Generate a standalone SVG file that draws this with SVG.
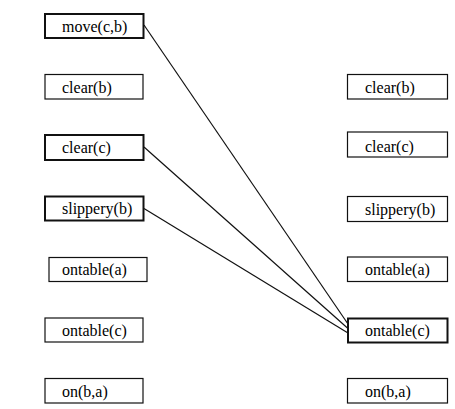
<svg xmlns="http://www.w3.org/2000/svg" width="455" height="409" viewBox="0 0 455 409">
  <style>
    .box { fill: #ffffff; stroke: #111111; stroke-width: 1.2; }
    .bold { stroke-width: 2; }
    .link { stroke: #111111; stroke-width: 1.2; fill: none; }
  </style>
  <rect width="455" height="409" fill="#ffffff"/>

  <!-- connectors -->
  <g id="connectors">
    <line class="link" x1="144" y1="25" x2="348" y2="324"/>
    <line class="link" x1="144" y1="147" x2="348" y2="328.5"/>
    <line class="link" x1="144" y1="208.5" x2="348" y2="333"/>
  </g>

  <!-- left column -->
  <g id="l-move-c-b"><rect class="box bold" x="45" y="14" width="98.5" height="24"/></g>
  <g id="l-clear-b"><rect class="box" x="45" y="74.5" width="98" height="24.5"/></g>
  <g id="l-clear-c"><rect class="box bold" x="45" y="135" width="98.5" height="25"/></g>
  <g id="l-slippery-b"><rect class="box bold" x="45" y="196.5" width="98.5" height="24"/></g>
  <g id="l-ontable-a"><rect class="box" x="49" y="257.5" width="98" height="24"/></g>
  <g id="l-ontable-c"><rect class="box" x="45" y="318" width="98" height="24"/></g>
  <g id="l-on-b-a"><rect class="box" x="45" y="378.5" width="98" height="24.5"/></g>

  <!-- right column -->
  <g id="r-clear-b"><rect class="box" x="347.5" y="74.5" width="100" height="24.5"/></g>
  <g id="r-clear-c"><rect class="box" x="347.5" y="132" width="100" height="25"/></g>
  <g id="r-slippery-b"><rect class="box" x="347.5" y="196.5" width="100" height="25"/></g>
  <g id="r-ontable-a"><rect class="box" x="347.5" y="257" width="100" height="24.5"/></g>
  <g id="r-ontable-c"><rect class="box bold" x="348" y="318.5" width="99.5" height="24"/></g>
  <g id="r-on-b-a"><rect class="box" x="347.5" y="378.5" width="100" height="24.5"/></g>

  <!-- box labels -->
  <text x="62" y="32" font-family="Liberation Serif" font-size="16">move(c,b)</text>
  <text x="62" y="92.5" font-family="Liberation Serif" font-size="16">clear(b)</text>
  <text x="62" y="153" font-family="Liberation Serif" font-size="16">clear(c)</text>
  <text x="62" y="214" font-family="Liberation Serif" font-size="16">slippery(b)</text>
  <text x="62" y="275" font-family="Liberation Serif" font-size="16">ontable(a)</text>
  <text x="62" y="336" font-family="Liberation Serif" font-size="16">ontable(c)</text>
  <text x="62" y="396.5" font-family="Liberation Serif" font-size="16">on(b,a)</text>
  <text x="365" y="92.5" font-family="Liberation Serif" font-size="16">clear(b)</text>
  <text x="365" y="152" font-family="Liberation Serif" font-size="16">clear(c)</text>
  <text x="365" y="214.5" font-family="Liberation Serif" font-size="16">slippery(b)</text>
  <text x="365" y="275" font-family="Liberation Serif" font-size="16">ontable(a)</text>
  <text x="365" y="336" font-family="Liberation Serif" font-size="16">ontable(c)</text>
  <text x="365" y="396.5" font-family="Liberation Serif" font-size="16">on(b,a)</text>
</svg>
